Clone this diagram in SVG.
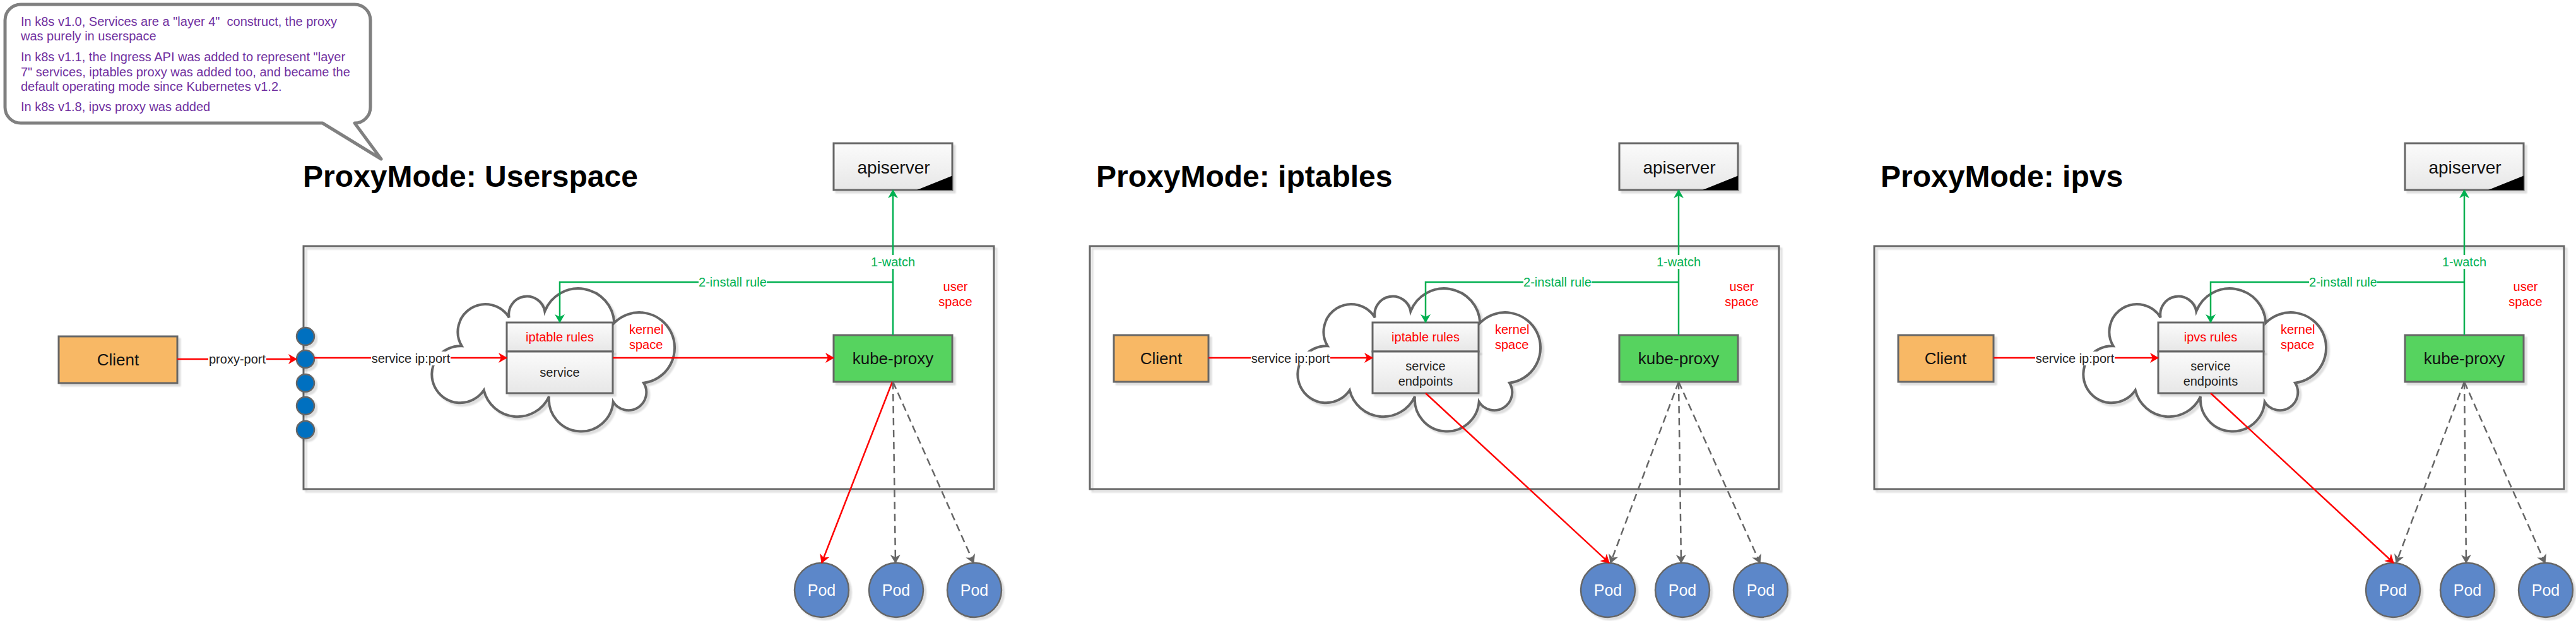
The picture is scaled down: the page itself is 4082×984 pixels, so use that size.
<svg xmlns="http://www.w3.org/2000/svg" width="4082" height="984" viewBox="0 0 4082 984">
<style>
text{font-family:"Liberation Sans",Arial,sans-serif}
.title{font-size:48px;font-weight:bold;fill:#000}
.box{stroke:#666;stroke-width:3}
.lbl{font-size:20px;fill:#222;text-anchor:middle}
.red{font-size:20px;fill:#f00}
.grn{font-size:20px;fill:#00b050;text-anchor:middle}
.big{font-size:26px;fill:#111;text-anchor:middle}
.pod{font-size:25px;fill:#fff;text-anchor:middle}
.note{font-size:20px;fill:#7030a0}
.rl{stroke:#f00;stroke-width:2.5;fill:none}
.gl{stroke:#00b050;stroke-width:2.5;fill:none}
.dl{stroke:#666;stroke-width:2.5;fill:none;stroke-dasharray:12 7}
.bg{fill:#fff}
</style>
<defs>
<filter id="sh" x="-10%" y="-10%" width="130%" height="130%"><feDropShadow dx="4" dy="4" stdDeviation="1.2" flood-color="#000" flood-opacity="0.13"/></filter>
<linearGradient id="gg" x1="0" y1="0" x2="0" y2="1"><stop offset="0" stop-color="#fbfbfb"/><stop offset="1" stop-color="#e7e7e7"/></linearGradient>
<marker id="ar" viewBox="0 0 14 16" refX="13" refY="8" markerWidth="14" markerHeight="16" markerUnits="userSpaceOnUse" orient="auto"><path d="M0,0 L14,8 L0,16 L4,8 Z" fill="#f00"/></marker>
<marker id="ag" viewBox="0 0 14 16" refX="13" refY="8" markerWidth="14" markerHeight="16" markerUnits="userSpaceOnUse" orient="auto"><path d="M0,0 L14,8 L0,16 L4,8 Z" fill="#00b050"/></marker>
<marker id="ay" viewBox="0 0 14 16" refX="13" refY="8" markerWidth="14" markerHeight="16" markerUnits="userSpaceOnUse" orient="auto"><path d="M0,0 L14,8 L0,16 L4,8 Z" fill="#666"/></marker>
<path id="cloud" d="M48.7 90.3 A43.7 43.7 0 0 1 123.7 45.3 A28.7 28.7 0 0 1 180.3 35.3 A57 57 0 0 1 290.3 53.7 A56 56 0 1 1 337 148.7 A28.4 28.4 0 0 1 288.7 178.7 A51 51 0 0 1 187 170.3 A55 55 0 0 1 83.7 160.3 A45 45 0 1 1 48.7 90.3 Z" fill="#fff" stroke="#666" stroke-width="4"/>
</defs>
<rect width="4082" height="984" fill="#fff"/>

<g id="note">
<path d="M33 7 H562 A25 25 0 0 1 587 32 V170 A25 25 0 0 1 562 195 L604 252 L511 195 H33 A25 25 0 0 1 8 170 V32 A25 25 0 0 1 33 7 Z" fill="#fff" stroke="#808080" stroke-width="5" stroke-linejoin="round"/>
<text class="note" x="33" y="41" xml:space="preserve">In k8s v1.0, Services are a "layer 4"  construct, the proxy</text>
<text class="note" x="33" y="64">was purely in userspace</text>
<text class="note" x="33" y="97">In k8s v1.1, the Ingress API was added to represent "layer</text>
<text class="note" x="33" y="121">7" services, iptables proxy was added too, and became the</text>
<text class="note" x="33" y="144">default operating mode since Kubernetes v1.2.</text>
<text class="note" x="33" y="176">In k8s v1.8, ipvs proxy was added</text>
</g>

<!-- Panel 1 -->
<g id="p1-frame"><rect x="481" y="390" width="1094" height="385" fill="none" class="box" filter="url(#sh)"/></g>
<g id="p1-title"><text class="title" x="480" y="296">ProxyMode: Userspace</text></g>
<g id="p1-cloud"><use href="#cloud" x="683" y="458" filter="url(#sh)"/>
<text class="red" x="997" y="529">kernel</text><text class="red" x="997" y="553">space</text></g>
<g id="p1-userspace"><text class="red" x="1514" y="461" text-anchor="middle">user</text><text class="red" x="1514" y="485" text-anchor="middle">space</text></g>
<g id="p1-client"><rect x="93" y="533" width="188" height="74" fill="#f8b865" class="box" filter="url(#sh)"/><text class="big" x="187" y="579">Client</text></g>
<g id="p1-ports" filter="url(#sh)">
<circle cx="484" cy="533" r="14" fill="#0070c0" stroke="#666" stroke-width="2.5"/>
<circle cx="484" cy="569" r="14" fill="#0070c0" stroke="#666" stroke-width="2.5"/>
<circle cx="484" cy="607" r="14" fill="#0070c0" stroke="#666" stroke-width="2.5"/>
<circle cx="484" cy="643" r="14" fill="#0070c0" stroke="#666" stroke-width="2.5"/>
<circle cx="484" cy="681" r="14" fill="#0070c0" stroke="#666" stroke-width="2.5"/>
</g>
<g id="p1-rules"><rect x="803" y="511" width="168" height="46" fill="url(#gg)" class="box" filter="url(#sh)"/><rect x="803" y="557" width="168" height="66" fill="url(#gg)" class="box" filter="url(#sh)"/>
<text class="red" x="887" y="541" text-anchor="middle">iptable rules</text><text class="lbl" x="887" y="597">service</text></g>
<g id="p1-apiserver"><rect x="1321" y="227" width="188" height="74" fill="url(#gg)" class="box" filter="url(#sh)"/><polygon points="1453,301 1509,278.5 1509,301" fill="#000"/><text class="big" x="1416" y="275" style="font-size:28px">apiserver</text></g>
<g id="p1-kubeproxy"><rect x="1321" y="531" width="188" height="74" fill="#57d35f" class="box" filter="url(#sh)"/><text class="big" x="1415" y="577">kube-proxy</text></g>
<g id="p1-pod1"><circle cx="1302" cy="935" r="43" fill="#5b87c9" stroke="#666" stroke-width="2.5" filter="url(#sh)"/><text class="pod" x="1302" y="944">Pod</text></g>
<g id="p1-pod2"><circle cx="1420" cy="935" r="43" fill="#5b87c9" stroke="#666" stroke-width="2.5" filter="url(#sh)"/><text class="pod" x="1420" y="944">Pod</text></g>
<g id="p1-pod3"><circle cx="1544" cy="935" r="43" fill="#5b87c9" stroke="#666" stroke-width="2.5" filter="url(#sh)"/><text class="pod" x="1544" y="944">Pod</text></g>

<!-- Panel 2 -->
<g id="p2-frame"><rect x="1727" y="390" width="1092" height="385" fill="none" class="box" filter="url(#sh)"/></g>
<g id="p2-title"><text class="title" x="1737" y="296">ProxyMode: iptables</text></g>
<g id="p2-cloud"><use href="#cloud" x="2055" y="458" filter="url(#sh)"/>
<text class="red" x="2369" y="529">kernel</text><text class="red" x="2369" y="553">space</text></g>
<g id="p2-userspace"><text class="red" x="2760" y="461" text-anchor="middle">user</text><text class="red" x="2760" y="485" text-anchor="middle">space</text></g>
<g id="p2-client"><rect x="1765" y="531" width="150" height="74" fill="#f8b865" class="box" filter="url(#sh)"/><text class="big" x="1840" y="577">Client</text></g>
<g id="p2-rules"><rect x="2175" y="511" width="168" height="46" fill="url(#gg)" class="box" filter="url(#sh)"/><rect x="2175" y="557" width="168" height="66" fill="url(#gg)" class="box" filter="url(#sh)"/>
<text class="red" x="2259" y="541" text-anchor="middle">iptable rules</text><text class="lbl" x="2259" y="587">service</text><text class="lbl" x="2259" y="611">endpoints</text></g>
<g id="p2-apiserver"><rect x="2566" y="227" width="188" height="74" fill="url(#gg)" class="box" filter="url(#sh)"/><polygon points="2698,301 2754,278.5 2754,301" fill="#000"/><text class="big" x="2661" y="275" style="font-size:28px">apiserver</text></g>
<g id="p2-kubeproxy"><rect x="2566" y="531" width="188" height="74" fill="#57d35f" class="box" filter="url(#sh)"/><text class="big" x="2660" y="577">kube-proxy</text></g>
<g id="p2-pod1"><circle cx="2548" cy="935" r="43" fill="#5b87c9" stroke="#666" stroke-width="2.5" filter="url(#sh)"/><text class="pod" x="2548" y="944">Pod</text></g>
<g id="p2-pod2"><circle cx="2666" cy="935" r="43" fill="#5b87c9" stroke="#666" stroke-width="2.5" filter="url(#sh)"/><text class="pod" x="2666" y="944">Pod</text></g>
<g id="p2-pod3"><circle cx="2790" cy="935" r="43" fill="#5b87c9" stroke="#666" stroke-width="2.5" filter="url(#sh)"/><text class="pod" x="2790" y="944">Pod</text></g>

<!-- Panel 3 -->
<g id="p3-frame"><rect x="2970" y="390" width="1093" height="385" fill="none" class="box" filter="url(#sh)"/></g>
<g id="p3-title"><text class="title" x="2980" y="296">ProxyMode: ipvs</text></g>
<g id="p3-cloud"><use href="#cloud" x="3300" y="458" filter="url(#sh)"/>
<text class="red" x="3614" y="529">kernel</text><text class="red" x="3614" y="553">space</text></g>
<g id="p3-userspace"><text class="red" x="4002" y="461" text-anchor="middle">user</text><text class="red" x="4002" y="485" text-anchor="middle">space</text></g>
<g id="p3-client"><rect x="3008" y="531" width="151" height="74" fill="#f8b865" class="box" filter="url(#sh)"/><text class="big" x="3083" y="577">Client</text></g>
<g id="p3-rules"><rect x="3420" y="511" width="167" height="46" fill="url(#gg)" class="box" filter="url(#sh)"/><rect x="3420" y="557" width="167" height="66" fill="url(#gg)" class="box" filter="url(#sh)"/>
<text class="red" x="3503" y="541" text-anchor="middle">ipvs rules</text><text class="lbl" x="3503" y="587">service</text><text class="lbl" x="3503" y="611">endpoints</text></g>
<g id="p3-apiserver"><rect x="3811" y="227" width="188" height="74" fill="url(#gg)" class="box" filter="url(#sh)"/><polygon points="3943,301 3999,278.5 3999,301" fill="#000"/><text class="big" x="3906" y="275" style="font-size:28px">apiserver</text></g>
<g id="p3-kubeproxy"><rect x="3811" y="531" width="188" height="74" fill="#57d35f" class="box" filter="url(#sh)"/><text class="big" x="3905" y="577">kube-proxy</text></g>
<g id="p3-pod1"><circle cx="3792" cy="935" r="43" fill="#5b87c9" stroke="#666" stroke-width="2.5" filter="url(#sh)"/><text class="pod" x="3792" y="944">Pod</text></g>
<g id="p3-pod2"><circle cx="3910" cy="935" r="43" fill="#5b87c9" stroke="#666" stroke-width="2.5" filter="url(#sh)"/><text class="pod" x="3910" y="944">Pod</text></g>
<g id="p3-pod3"><circle cx="4034" cy="935" r="43" fill="#5b87c9" stroke="#666" stroke-width="2.5" filter="url(#sh)"/><text class="pod" x="4034" y="944">Pod</text></g>

<g id="connectors">
<!-- panel 1 -->
<line class="rl" x1="281" y1="569" x2="470" y2="569" marker-end="url(#ar)"/>
<rect class="bg" x="330" y="558" width="92" height="22"/><text class="lbl" x="376" y="576">proxy-port</text>
<line class="rl" x1="498" y1="567" x2="803" y2="567" marker-end="url(#ar)"/>
<rect class="bg" x="588" y="557" width="126" height="22"/><text class="lbl" x="651" y="575">service ip:port</text>
<line class="rl" x1="971" y1="567" x2="1321" y2="567" marker-end="url(#ar)"/>
<line class="rl" x1="1414" y1="605" x2="1302" y2="892" marker-end="url(#ar)"/>
<line class="dl" x1="1415" y1="605" x2="1419" y2="892" marker-end="url(#ay)"/>
<line class="dl" x1="1415" y1="605" x2="1543" y2="892" marker-end="url(#ay)"/>
<line class="gl" x1="1415" y1="531" x2="1415" y2="301" marker-end="url(#ag)"/>
<polyline class="gl" points="1415,447 887,447 887,511" marker-end="url(#ag)"/>
<rect class="bg" x="1380" y="404" width="70" height="22"/><text class="grn" x="1415" y="422">1-watch</text>
<rect class="bg" x="1107" y="436" width="108" height="22"/><text class="grn" x="1161" y="454">2-install rule</text>
<!-- panel 2 -->
<line class="rl" x1="1915" y1="567" x2="2175" y2="567" marker-end="url(#ar)"/>
<rect class="bg" x="1982" y="557" width="126" height="22"/><text class="lbl" x="2045" y="575">service ip:port</text>
<line class="rl" x1="2259" y1="623" x2="2550" y2="892" marker-end="url(#ar)"/>
<line class="dl" x1="2660" y1="605" x2="2552" y2="892" marker-end="url(#ay)"/>
<line class="dl" x1="2660" y1="605" x2="2664" y2="892" marker-end="url(#ay)"/>
<line class="dl" x1="2660" y1="605" x2="2789" y2="892" marker-end="url(#ay)"/>
<line class="gl" x1="2660" y1="531" x2="2660" y2="301" marker-end="url(#ag)"/>
<polyline class="gl" points="2660,447 2259,447 2259,511" marker-end="url(#ag)"/>
<rect class="bg" x="2625" y="404" width="70" height="22"/><text class="grn" x="2660" y="422">1-watch</text>
<rect class="bg" x="2414" y="436" width="108" height="22"/><text class="grn" x="2468" y="454">2-install rule</text>
<!-- panel 3 -->
<line class="rl" x1="3159" y1="567" x2="3420" y2="567" marker-end="url(#ar)"/>
<rect class="bg" x="3225" y="557" width="126" height="22"/><text class="lbl" x="3288" y="575">service ip:port</text>
<line class="rl" x1="3503" y1="623" x2="3793" y2="892" marker-end="url(#ar)"/>
<line class="dl" x1="3905" y1="605" x2="3797" y2="892" marker-end="url(#ay)"/>
<line class="dl" x1="3905" y1="605" x2="3908" y2="892" marker-end="url(#ay)"/>
<line class="dl" x1="3905" y1="605" x2="4033" y2="892" marker-end="url(#ay)"/>
<line class="gl" x1="3905" y1="531" x2="3905" y2="301" marker-end="url(#ag)"/>
<polyline class="gl" points="3905,447 3503,447 3503,511" marker-end="url(#ag)"/>
<rect class="bg" x="3870" y="404" width="70" height="22"/><text class="grn" x="3905" y="422">1-watch</text>
<rect class="bg" x="3659" y="436" width="108" height="22"/><text class="grn" x="3713" y="454">2-install rule</text>
</g>
</svg>
